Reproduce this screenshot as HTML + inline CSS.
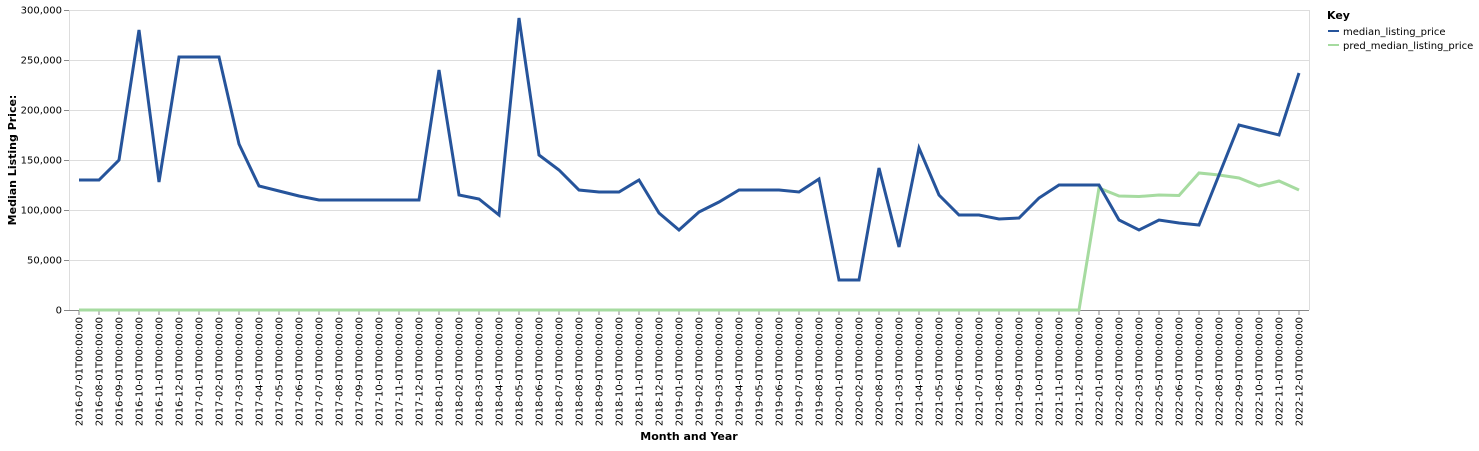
<!DOCTYPE html>
<html><head><meta charset="utf-8"><style>
body{margin:0;background:#fff;font-family:"DejaVu Sans",sans-serif}
svg text{font-family:"DejaVu Sans",sans-serif}
</style></head><body>
<svg id="chart" width="1479" height="447" xmlns="http://www.w3.org/2000/svg">
<g id="grid"></g>
<g id="yaxis"></g>
<g id="xaxis"></g>
<g id="series"></g>
<text transform="translate(16,160) rotate(-90)" text-anchor="middle" font-size="11" font-weight="bold">Median Listing Price:</text>
<text x="689" y="440" text-anchor="middle" font-size="11" font-weight="bold">Month and Year</text>
<g>
<text x="1327" y="19" font-size="11" font-weight="bold">Key</text>
<g><line x1="1328" x2="1339" y1="31" y2="31" stroke="#26549b" stroke-width="2"/><text x="1343" y="35" font-size="10">median_listing_price</text></g>
<g><line x1="1328" x2="1339" y1="45" y2="45" stroke="#a6dba0" stroke-width="2"/><text x="1343" y="49" font-size="10">pred_median_listing_price</text></g>
</g>
</svg>
<script>
const months=["2016-07","2016-08","2016-09","2016-10","2016-11","2016-12","2017-01","2017-02","2017-03","2017-04","2017-05","2017-06","2017-07","2017-08","2017-09","2017-10","2017-11","2017-12","2018-01","2018-02","2018-03","2018-04","2018-05","2018-06","2018-07","2018-08","2018-09","2018-10","2018-11","2018-12","2019-01","2019-02","2019-03","2019-04","2019-05","2019-06","2019-07","2019-08","2020-01","2020-02","2020-08","2021-03","2021-04","2021-05","2021-06","2021-07","2021-08","2021-09","2021-10","2021-11","2021-12","2022-01","2022-02","2022-03","2022-05","2022-06","2022-07","2022-08","2022-09","2022-10","2022-11","2022-12"];
const medianValues=[130000,130000,150000,280000,128000,253000,253000,253000,166000,124000,119000,114000,110000,110000,110000,110000,110000,110000,240000,115000,111000,95000,292000,155000,140000,120000,118000,118000,130000,97000,80000,98000,108000,120000,120000,120000,118000,131000,30000,30000,142000,63000,162000,115000,95000,95000,91000,92000,112000,125000,125000,125000,90000,80000,90000,87000,85000,135000,185000,180000,175000,237000];
const predValues=[0,0,0,0,0,0,0,0,0,0,0,0,0,0,0,0,0,0,0,0,0,0,0,0,0,0,0,0,0,0,0,0,0,0,0,0,0,0,0,0,0,0,0,0,0,0,0,0,0,0,0,122000,114000,113500,115000,114500,137000,135000,132000,124000,129000,120000];
const yTicks=[0,50000,100000,150000,200000,250000,300000];
const NS="http://www.w3.org/2000/svg";
const L=69,R=1309,T=10,B=310,yMax=300000;
const band=(R-L)/months.length;
const x=i=>L+band*(i+0.5);
const y=v=>B-(v/yMax)*(B-T);
function mk(tag,attrs,parent){const e=document.createElementNS(NS,tag);for(const k in attrs)e.setAttribute(k,attrs[k]);parent.appendChild(e);return e;}
const grid=document.getElementById('grid'),ya=document.getElementById('yaxis'),xa=document.getElementById('xaxis'),se=document.getElementById('series');
yTicks.forEach(t=>{
  const g=mk('line',{x1:L,x2:R,y1:y(t)+0.5,y2:y(t)+0.5,stroke:'#ddd'},grid);
  
  
  mk('line',{x1:L-5,x2:L,y1:y(t)+0.5,y2:y(t)+0.5,stroke:'#888'},ya);
  const tx=mk('text',{x:L-7,y:y(t)+3.5,'text-anchor':'end','font-size':10},ya);
  tx.textContent=t.toLocaleString('en-US');
  
  
});
mk('line',{x1:L+0.5,x2:L+0.5,y1:T,y2:B,stroke:'#ddd'},grid);
mk('line',{x1:R+0.5,x2:R+0.5,y1:T,y2:B,stroke:'#ddd'},grid);
mk('line',{x1:L,x2:R,y1:T+0.5,y2:T+0.5,stroke:'#ddd'},grid);
mk('line',{x1:L,x2:R,y1:B+0.5,y2:B+0.5,stroke:'#888'},xa);
months.forEach((m,i)=>{
  mk('line',{x1:x(i),x2:x(i),y1:B,y2:B+5,stroke:'#888'},xa);
  const tx=mk('text',{transform:`translate(${x(i)+3.5},${B+7}) rotate(-90)`,'text-anchor':'end','font-size':10},xa);
  tx.textContent=m+'-01T00:00:00';
  
  
});
function line(vals,color,name){
  const p=mk('path',{d:vals.map((v,i)=>(i?'L':'M')+x(i)+','+y(v)).join(''),fill:'none',stroke:color,'stroke-width':3,'stroke-linejoin':'miter'},se);
  
  
}
line(predValues,'#a6dba0','pred-median-listing-price-line');
line(medianValues,'#26549b','median-listing-price-line');
</script>
</body></html>
